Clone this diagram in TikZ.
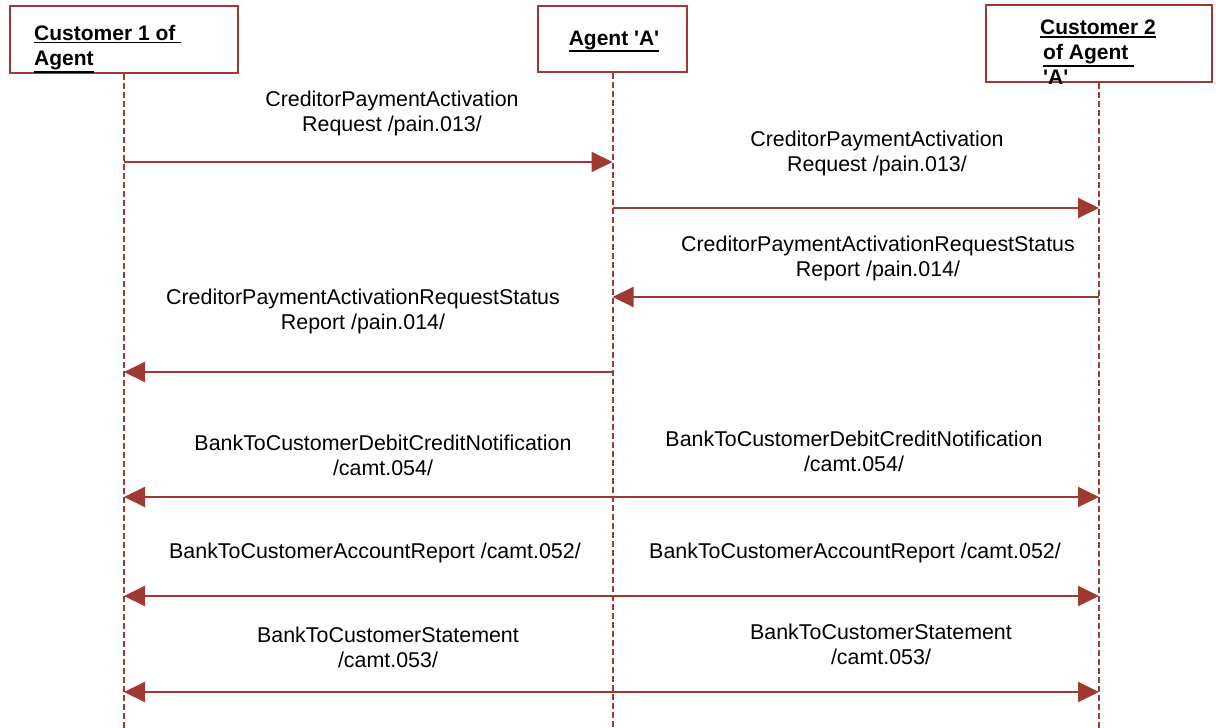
\documentclass[tikz,border=0pt]{standalone}
\usepackage{fontspec}
\setmainfont{Liberation Sans}
\usetikzlibrary{arrows.meta}
\definecolor{msgred}{RGB}{158,58,50}
\newcommand\sq{\textquotesingle}
\newcommand\ul[1]{\setbox0\hbox{#1}\rlap{\rule[-\dimexpr\dp0+2.8pt\relax]{\wd0}{1.8pt}}\box0}

\begin{document}
\begin{tikzpicture}[x=1pt,y=-1pt,
  >={Triangle[length=21pt,width=20pt]},
  actor/.style={draw=msgred, line width=2pt, inner sep=0pt},
  head/.style={font=\fontsize{21}{25}\selectfont\bfseries, align=left, inner sep=0pt},
  lbl/.style={font=\fontsize{21.4}{25}\selectfont, align=center, inner sep=0pt},
  life/.style={draw=msgred, line width=2pt, dash pattern=on 6pt off 3pt},
  msg/.style={draw=msgred, line width=2pt}]
\useasboundingbox (0,0) rectangle (1216,728);

% actors
\node[actor, minimum width=228, minimum height=67] (c1) at (124,39.5) {};
\node[actor, minimum width=149, minimum height=66] (ag) at (612.5,39) {};
\node[actor, minimum width=226, minimum height=77] (c2) at (1099,43.5) {};

\node[head, anchor=north west] (c1t) at (34,25) {\ul{Customer 1 of\ }\\\ul{Agent}};
\node[head, anchor=base] (agt) at (614,45) {\ul{Agent \sq A\sq}};
\node[head, anchor=north west] (c2t) at (1040,20) {\ul{Customer 2}\\\hspace{3pt}\ul{of Agent\ }\\\hspace{3pt}\sq A\sq};

% lifelines
\coordinate (bottom) at (0,728);
\draw[life] (c1.south) -- (c1.south |- bottom);
\draw[life] (ag.south) -- (ag.south |- bottom);
\draw[life] (c2.south) -- (c2.south |- bottom);

% message rows
\coordinate (y1) at (0,162);
\coordinate (y2) at (0,208);
\coordinate (y3) at (0,297);
\coordinate (y4) at (0,372);
\coordinate (y5) at (0,497);
\coordinate (y6) at (0,596);
\coordinate (y7) at (0,692);

\begin{scope}[msg]
\draw[->] (c1 |- y1) -- (ag |- y1);
\draw[->] (ag |- y2) -- (c2 |- y2);
\draw[->] (c2 |- y3) -- (ag |- y3);
\draw[->] (ag |- y4) -- (c1 |- y4);

\draw[<->] (c1 |- y5) -- (c2 |- y5);
\draw[<->] (c1 |- y6) -- (c2 |- y6);
\draw[<->] (c1 |- y7) -- (c2 |- y7);
\end{scope}

% labels
\node[lbl] (m1) at (392,113) {CreditorPaymentActivation\\Request /pain.013/};
\node[lbl] (m2) at (877,153) {CreditorPaymentActivation\\Request /pain.013/};
\node[lbl] (m3) at (878,258) {CreditorPaymentActivationRequestStatus\\Report /pain.014/};
\node[lbl] (m4) at (363,311) {CreditorPaymentActivationRequestStatus\\Report /pain.014/};

\node[lbl] (m5a) at (383,455) {BankToCustomerDebitCreditNotification\\/camt.054/};
\node[lbl] (m5b) at (854,451) {BankToCustomerDebitCreditNotification\\/camt.054/};
\node[lbl] (m6a) at (375,553) {BankToCustomerAccountReport /camt.052/};
\node[lbl] (m6b) at (855,553) {BankToCustomerAccountReport /camt.052/};
\node[lbl] (m7a) at (388,647) {BankToCustomerStatement\\/camt.053/};
\node[lbl] (m7b) at (881,644) {BankToCustomerStatement\\/camt.053/};

\end{tikzpicture}
\end{document}
